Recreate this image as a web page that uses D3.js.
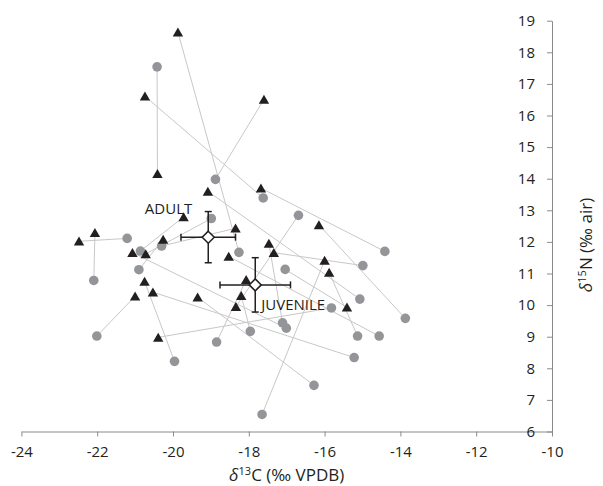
<!DOCTYPE html>
<html>
<head>
<meta charset="utf-8">
<script src="https://cdn.jsdelivr.net/npm/d3@7/dist/d3.min.js"></script>
<style>
body { margin: 0; background: #fff; }
text { font-family: "Open Sans", sans-serif; fill: #231f20; }
</style>
</head>
<body>
<div id="chart"></div>
<script>
// paired samples: triangle (adult) i is joined to circle (juvenile) i
const adultC = [-19.87, -20.74, -17.60, -20.41, -17.68, -19.08, -19.72, -18.35, -22.06, -22.48,
	-20.26, -16.15, -21.07, -20.72, -17.47, -17.34, -18.53, -16.00, -15.88, -20.75,
	-21.00, -20.53, -19.35, -18.07, -18.20, -18.34, -15.41, -20.39];
const adultN = [18.64, 16.61, 16.51, 14.16, 13.70, 13.60, 12.79, 12.43, 12.29, 12.02,
	12.08, 12.54, 11.66, 11.62, 11.95, 11.66, 11.54, 11.41, 11.03, 10.75,
	10.28, 10.41, 10.25, 10.80, 10.30, 9.95, 9.93, 8.98];
const juvenileC = [-18.26, -17.62, -18.88, -20.42, -14.41, -15.07, -20.86, -20.30, -22.09, -21.21,
	-20.90, -13.87, -17.01, -18.99, -17.11, -14.99, -14.56, -17.65, -15.13, -19.96,
	-22.01, -15.22, -16.28, -18.85, -17.96, -16.69, -17.04, -15.82];
const juvenileN = [11.67, 13.39, 13.98, 17.54, 11.70, 10.19, 11.71, 11.87, 10.78, 12.11,
	11.12, 9.58, 9.27, 12.74, 9.44, 11.25, 9.02, 6.54, 9.02, 8.22,
	9.02, 8.34, 7.46, 8.83, 9.17, 12.84, 11.13, 9.91];

const meanLabels = ['ADULT', 'JUVENILE'];
const meanC = [-19.07, -17.83];
const meanN = [12.15, 10.64];
const meanErrC = [0.72, 0.93];
const meanErrN = [0.81, 0.86];

const xTicks = [-24, -22, -20, -18, -16, -14, -12, -10];
const yTicks = [6, 7, 8, 9, 10, 11, 12, 13, 14, 15, 16, 17, 18, 19];

const width = 603;
const height = 486;

const svg = d3.select('#chart').append('svg')
	.attr('width', width)
	.attr('height', height);

const x = d3.scaleLinear().domain([-24, -10]).range([21.4, 552]);
const y = d3.scaleLinear().domain([6, 19]).range([431.5, 20.7]);

// axes (plain hyphen for negatives, like the original)
const xAxis = d3.axisBottom(x).tickValues(xTicks).tickFormat(d => String(d))
	.tickSize(5).tickPadding(10).tickSizeOuter(0);
const yAxis = d3.axisLeft(y).tickValues(yTicks).tickFormat(d => String(d))
	.tickSize(5).tickPadding(12).tickSizeOuter(0);

const gx = svg.append('g')
	.attr('transform', `translate(0, ${y(6)})`)
	.call(xAxis);
const gy = svg.append('g')
	.attr('transform', `translate(${x(-10)}, 0)`)
	.call(yAxis);

[gx, gy].forEach(g => {
	g.select('.domain').attr('stroke', '#8a8a8a');
	g.selectAll('.tick line').attr('stroke', '#8a8a8a');
	g.selectAll('.tick text')
		.style('font-size', '15px')
		.style('font-family', '"Open Sans", sans-serif')
		.attr('fill', '#231f20');
});

// axis titles
const xTitle = svg.append('text')
	.attr('x', (x(-24) + x(-10)) / 2)
	.attr('y', 481)
	.attr('text-anchor', 'middle')
	.style('font-size', '17px');
xTitle.append('tspan').style('font-style', 'italic').text('δ');
xTitle.append('tspan').attr('dy', -6).style('font-size', '11px').text('13');
xTitle.append('tspan').attr('dy', 6).text('C (‰ VPDB)');

const yTitle = svg.append('text')
	.attr('transform', 'translate(592, 245) rotate(-90)')
	.attr('text-anchor', 'middle')
	.style('font-size', '17px');
yTitle.append('tspan').style('font-style', 'italic').text('δ');
yTitle.append('tspan').attr('dy', -6).style('font-size', '11px').text('15');
yTitle.append('tspan').attr('dy', 6).text('N (‰ air)');

// connecting lines
svg.append('g')
	.selectAll('line')
	.data(adultC)
	.enter()
	.append('line')
		.attr('x1', (d, i) => x(adultC[i]))
		.attr('y1', (d, i) => y(adultN[i]))
		.attr('x2', (d, i) => x(juvenileC[i]))
		.attr('y2', (d, i) => y(juvenileN[i]))
		.attr('stroke', '#c8c8c8')
		.attr('stroke-width', 1);

// juvenile circles
svg.append('g')
	.selectAll('circle')
	.data(juvenileC)
	.enter()
	.append('circle')
		.attr('cx', (d, i) => x(juvenileC[i]))
		.attr('cy', (d, i) => y(juvenileN[i]))
		.attr('r', 4.8)
		.attr('fill', '#939598');

// adult triangles
svg.append('g')
	.selectAll('path')
	.data(adultC)
	.enter()
	.append('path')
		.attr('d', 'M0,-4.7L5.2,4.3L-5.2,4.3Z')
		.attr('transform', (d, i) => `translate(${x(adultC[i])}, ${y(adultN[i])})`)
		.attr('fill', '#231f20');

// means with error bars
const means = svg.append('g')
	.attr('stroke', '#231f20')
	.attr('stroke-width', 1.5);
const cap = 3.5;

meanC.forEach((c, i) => {
	const cx = x(c), cy = y(meanN[i]);
	const x0 = x(c - meanErrC[i]), x1 = x(c + meanErrC[i]);
	const y0 = y(meanN[i] + meanErrN[i]), y1 = y(meanN[i] - meanErrN[i]);
	const g = means.append('g');
	g.append('line').attr('x1', x0).attr('x2', x1).attr('y1', cy).attr('y2', cy);
	g.append('line').attr('x1', x0).attr('x2', x0).attr('y1', cy - cap).attr('y2', cy + cap);
	g.append('line').attr('x1', x1).attr('x2', x1).attr('y1', cy - cap).attr('y2', cy + cap);
	g.append('line').attr('x1', cx).attr('x2', cx).attr('y1', y0).attr('y2', y1);
	g.append('line').attr('x1', cx - cap).attr('x2', cx + cap).attr('y1', y0).attr('y2', y0);
	g.append('line').attr('x1', cx - cap).attr('x2', cx + cap).attr('y1', y1).attr('y2', y1);
	g.append('path')
		.attr('d', 'M0,-6L6,0L0,6L-6,0Z')
		.attr('transform', `translate(${cx}, ${cy})`)
		.attr('fill', '#fff');
});

// mean labels
svg.append('text')
	.attr('x', x(meanC[0]) - 16)
	.attr('y', y(meanN[0]) - 23)
	.attr('text-anchor', 'end')
	.style('font-size', '15px')
	.text(meanLabels[0]);
svg.append('text')
	.attr('x', x(meanC[1]) + 6)
	.attr('y', y(meanN[1]) + 25)
	.style('font-size', '15px')
	.text(meanLabels[1]);
</script>
</body>
</html>
